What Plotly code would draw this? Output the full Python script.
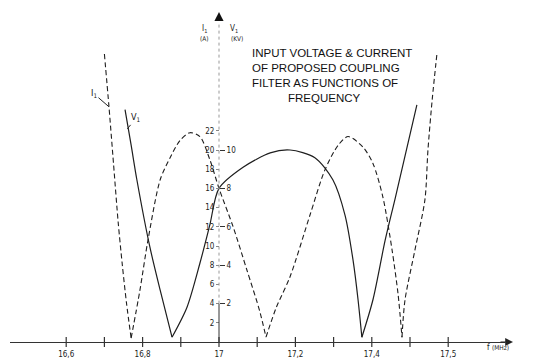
import plotly.graph_objects as go

# ---------------- data ----------------
# Input current I1 (A) versus frequency (MHz) - dashed curve
I1_F = [16.700, 16.712, 16.724, 16.736, 16.747, 16.758, 16.770,
        16.793, 16.814, 16.846, 16.872, 16.898, 16.924, 16.950, 16.976, 17.000, 17.037, 17.073, 17.106, 17.123,
        17.150, 17.186, 17.238, 17.277, 17.312, 17.338, 17.377, 17.403, 17.429, 17.453, 17.469, 17.479,
        17.487, 17.513, 17.539, 17.547, 17.558, 17.571]
I1_A = [30.0, 24.5, 18.5, 12.5, 8.0, 4.0, 0.4,
        5.4, 10.6, 16.9, 19.2, 21.0, 21.8, 21.4, 19.0, 16.0, 12.0, 7.5, 3.3, 0.5,
        3.6, 6.8, 13.2, 17.9, 20.5, 21.4, 20.3, 18.6, 15.1, 9.6, 4.9, 0.5,
        4.4, 9.6, 14.8, 20.0, 25.2, 30.2]

# Input voltage V1 (kV) versus frequency (MHz) - solid curve
V1_F = [16.754, 16.770, 16.785, 16.819, 16.846, 16.877,
        16.916, 16.950, 16.976, 17.000, 17.063, 17.134, 17.186, 17.251, 17.298, 17.330, 17.351, 17.364, 17.374,
        17.403, 17.435, 17.462, 17.518]
V1_KV = [12.1, 10.25, 8.45, 4.95, 2.7, 0.25,
         1.8, 4.1, 6.1, 8.0, 9.1, 9.85, 10.0, 9.6, 8.45, 6.6, 4.25, 2.2, 0.25,
         2.2, 5.3, 7.55, 12.35]

X_TICKS = [16.6, 16.7, 16.8, 16.9, 17.0, 17.1, 17.2, 17.3, 17.4, 17.5, 17.6]
X_LABEL_VALS = [16.6, 16.8, 17.0, 17.2, 17.4, 17.6]
X_LABEL_TEXT = ["16,6", "16,8", "17", "17,2", "17,4", "17,5"]
I_TICKS = [2, 4, 6, 8, 10, 12, 14, 16, 18, 20, 22]
V_TICKS = [2, 4, 6, 8, 10]
Y_AXIS_F = 17.0

TITLE_LINES = ["INPUT VOLTAGE & CURRENT", "OF PROPOSED COUPLING",
               "FILTER AS FUNCTIONS OF", "FREQUENCY"]

# ---------------- frame geometry (window pixels) ----------------
WIN_W, WIN_H = 533, 362
OFF = 8                               # page body margin
W, H = WIN_W - OFF, WIN_H - OFF       # figure size
X_LEFT_PX, X_RIGHT_PX = 10, 505       # x-axis line extent
PX_PER_MHZ = 382.0
Y_AXIS_PX = 219                       # pixel column where f = 17
ZERO_PX = 342                         # pixel row of the f axis
PX_PER_A = 9.6

x_min = Y_AXIS_F - (Y_AXIS_PX - X_LEFT_PX) / PX_PER_MHZ
x_max = Y_AXIS_F + (X_RIGHT_PX - Y_AXIS_PX) / PX_PER_MHZ
y_top = (ZERO_PX - OFF) / PX_PER_A


def px(x):
    return (x - OFF) / W


def py(y):
    return 1 - (y - OFF) / H


def a_at(y):
    """current value (A) at a window pixel row"""
    return (ZERO_PX - y) / PX_PER_A


def split_at_minima(xs, ys):
    """Break a curve into pieces at its sharp minima (so splines keep the V shape)."""
    out_x, out_y = [], []
    for i, (a, b) in enumerate(zip(xs, ys)):
        out_x.append(a)
        out_y.append(b)
        if 0 < i < len(ys) - 1 and b < ys[i - 1] and b < ys[i + 1]:
            out_x += [None, a]
            out_y += [None, b]
    return out_x, out_y


FONT = "Liberation Sans Narrow, DejaVu Sans Condensed, Liberation Sans, sans-serif"
TFONT = "Liberation Sans, Arial, sans-serif"
INK = "#1e1e1e"

fig = go.Figure()

ix, iy = split_at_minima(I1_F, I1_A)
fig.add_trace(go.Scatter(x=ix, y=iy, mode="lines", yaxis="y",
                         line=dict(color=INK, width=1.1, dash="5px,3px", shape="spline", smoothing=0.8),
                         connectgaps=False, hoverinfo="skip"))

vx, vy = split_at_minima(V1_F, V1_KV)
fig.add_trace(go.Scatter(x=vx, y=vy, mode="lines", yaxis="y2",
                         line=dict(color=INK, width=1.2, shape="spline", smoothing=0.8),
                         connectgaps=False, hoverinfo="skip"))

# crossing tick marks on the frequency axis
fig.add_trace(go.Scatter(x=X_TICKS, y=[0] * len(X_TICKS), mode="markers", yaxis="y",
                         marker=dict(symbol="line-ns", size=7, line=dict(width=1.2, color="#333")),
                         cliponaxis=False, hoverinfo="skip"))

shapes = [
    dict(type="line", xref="x", yref="y", x0=Y_AXIS_F, x1=Y_AXIS_F, y0=0, y1=4,
         line=dict(color="#333", width=1)),
    dict(type="line", xref="x", yref="y", x0=Y_AXIS_F, x1=Y_AXIS_F, y0=4, y1=a_at(22),
         line=dict(color="#999", width=1, dash="dot")),
]

annotations = []
# arrow at the end of the f axis
annotations.append(dict(xref="paper", yref="y", x=px(X_RIGHT_PX + 8), y=0, ax=-14, ay=0,
                        axref="pixel", ayref="pixel", text="", showarrow=True,
                        arrowhead=2, arrowsize=1.3, arrowwidth=1.2, arrowcolor="#222"))
# arrow at the top of the vertical axis
annotations.append(dict(xref="x", yref="y", x=Y_AXIS_F, y=a_at(12), ax=0, ay=10,
                        text="", showarrow=True, arrowhead=2, arrowsize=1.3, arrowwidth=1.4,
                        arrowcolor="#111"))
# axis captions
annotations += [
    dict(xref="paper", yref="paper", x=px(492), y=py(354), text="f", showarrow=False,
         font=dict(size=8, color="#222", family=FONT)),
    dict(xref="paper", yref="paper", x=px(511), y=py(354), text="(MHz)", showarrow=False,
         font=dict(size=6.5, color="#222", family=FONT)),
    dict(xref="paper", yref="paper", x=px(204), y=py(22), text="I<sub>1</sub>", showarrow=False,
         font=dict(size=8, color="#222", family=FONT)),
    dict(xref="paper", yref="paper", x=px(204), y=py(33), text="(A)", showarrow=False,
         font=dict(size=6.5, color="#222", family=FONT)),
    dict(xref="paper", yref="paper", x=px(234), y=py(22), text="V<sub>1</sub>", showarrow=False,
         font=dict(size=8, color="#222", family=FONT)),
    dict(xref="paper", yref="paper", x=px(237), y=py(33), text="(KV)", showarrow=False,
         font=dict(size=6.5, color="#222", family=FONT)),
]
# curve labels with leaders
annotations.append(dict(xref="x", yref="y", x=I1_F[1], y=I1_A[1], ax=-15, ay=-13,
                        text="I<sub>1</sub>", showarrow=True, arrowhead=0, arrowwidth=1,
                        arrowcolor="#222", standoff=0, font=dict(size=9, color="#111", family=FONT)))
annotations.append(dict(xref="x", yref="y2", x=V1_F[0] + 0.006, y=V1_KV[0] - 1.0, ax=9, ay=-11,
                        text="V<sub>1</sub>", showarrow=True, arrowhead=0, arrowwidth=1,
                        arrowcolor="#222", standoff=0, font=dict(size=9, color="#111", family=FONT)))
# title block
title_y = [53, 68, 83, 98]
for k, (line, yy) in enumerate(zip(TITLE_LINES, title_y)):
    if k < 3:
        annotations.append(dict(xref="paper", yref="paper", x=px(250), y=py(yy), xanchor="left",
                                yanchor="middle", text=line, showarrow=False,
                                font=dict(size=11.5, color="#111", family=TFONT)))
    else:
        annotations.append(dict(xref="paper", yref="paper", x=px(324), y=py(yy), xanchor="center",
                                yanchor="middle", text=line, showarrow=False,
                                font=dict(size=11.5, color="#111", family=TFONT)))

fig.update_layout(
    width=W, height=H,
    margin=dict(l=0, r=0, t=0, b=0, autoexpand=False),
    paper_bgcolor="white", plot_bgcolor="white",
    showlegend=False,
    xaxis=dict(domain=[px(X_LEFT_PX), px(X_RIGHT_PX)], range=[x_min, x_max], anchor="y",
               showline=True, linecolor="#333", linewidth=1, showgrid=False, zeroline=False,
               ticks="", tickvals=X_LABEL_VALS, ticktext=X_LABEL_TEXT, ticklabelstandoff=4,
               tickfont=dict(size=8, color="#222", family=FONT)),
    yaxis=dict(domain=[py(ZERO_PX), 1], range=[0, y_top], anchor="free", position=px(Y_AXIS_PX),
               side="left", showline=False, showgrid=False, zeroline=False,
               tickvals=I_TICKS, ticks="outside", ticklen=3, tickcolor="#888", tickwidth=1,
               tickfont=dict(size=8, color="#222", family=FONT)),
    yaxis2=dict(overlaying="y", range=[0, y_top / 2], anchor="free", position=px(Y_AXIS_PX),
                side="right", showline=False, showgrid=False, zeroline=False,
                tickvals=V_TICKS, ticks="outside", ticklen=5, tickcolor="#333", tickwidth=1,
                tickfont=dict(size=8, color="#222", family=FONT)),
    shapes=shapes,
    annotations=annotations,
)

fig.write_html("out.html")
